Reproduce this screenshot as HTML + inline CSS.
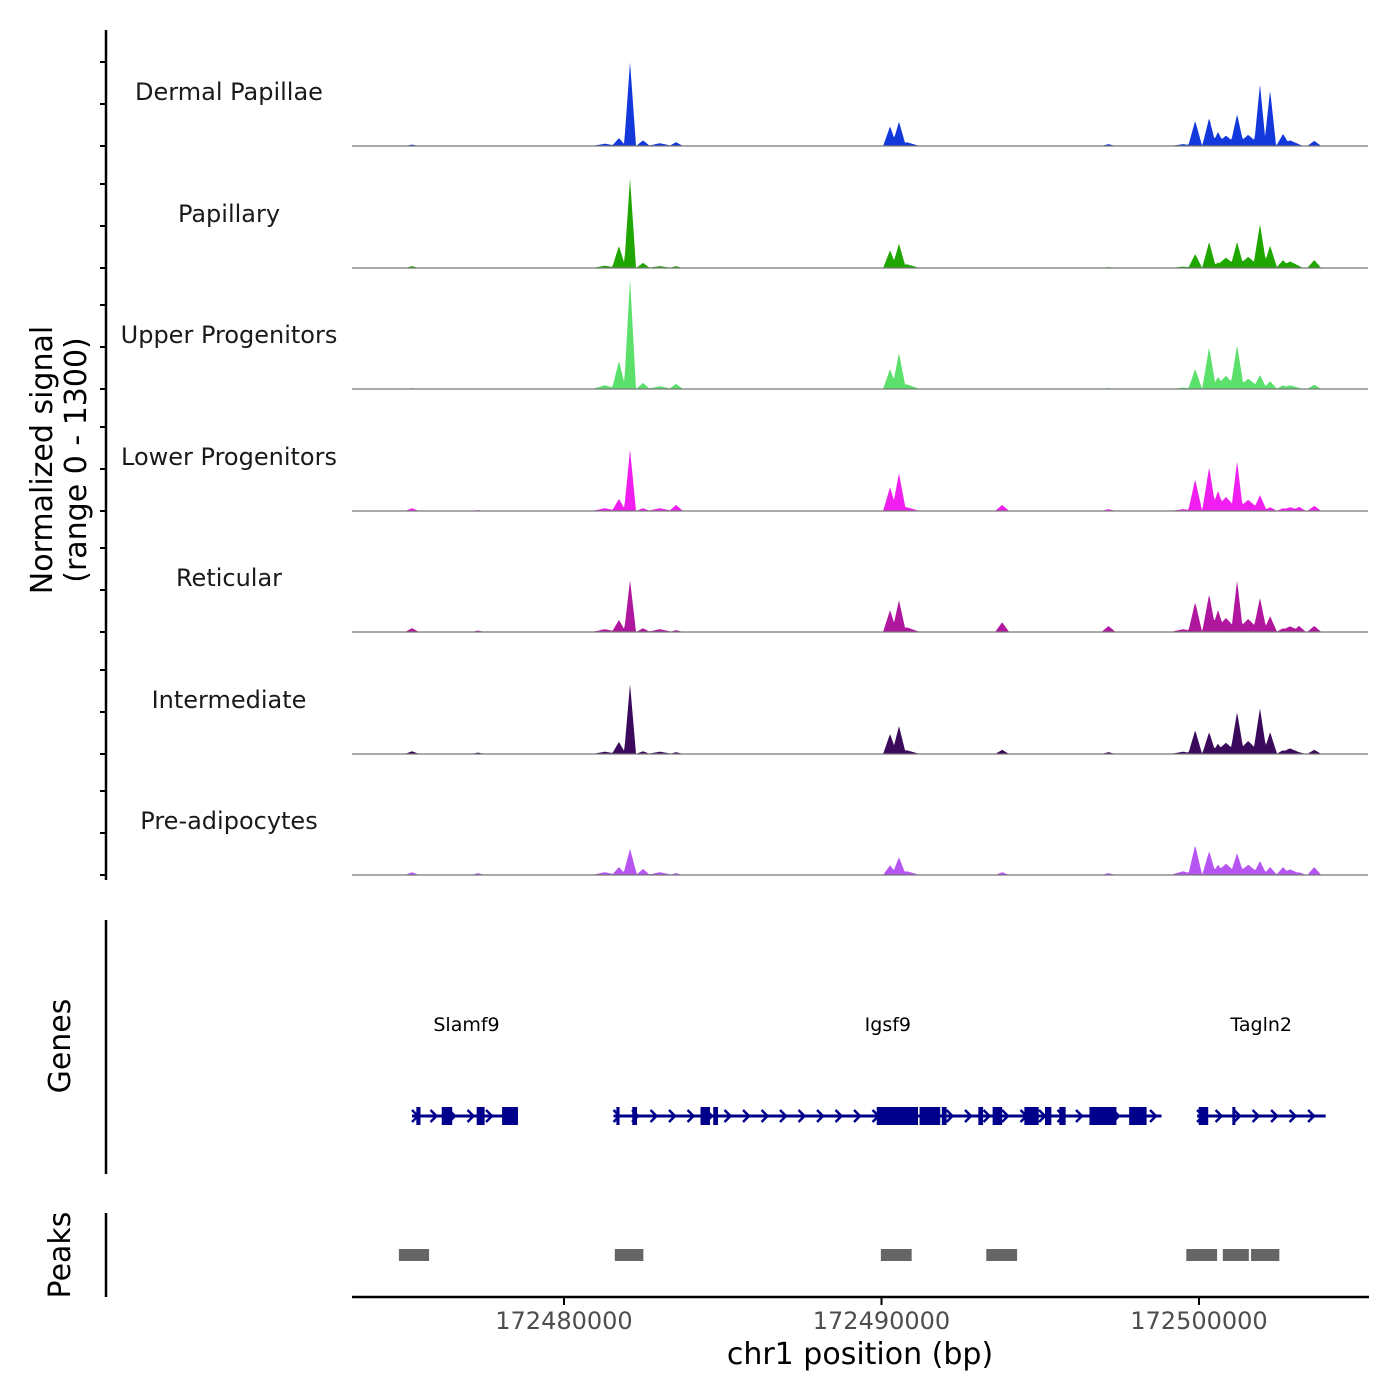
<!DOCTYPE html>
<html><head><meta charset="utf-8"><style>
html,body{margin:0;padding:0;background:#fff;}
svg{display:block;font-family:"DejaVu Sans","Liberation Sans",sans-serif;}
</style></head><body>
<svg id="chart" width="1400" height="1400" viewBox="0 0 1400 1400">
  <line x1="106" y1="30" x2="106" y2="880" stroke="#000" stroke-width="2.5"/>
  <g id="yticks"></g>
  <g id="tracks"></g>
  <text transform="translate(52,460) rotate(-90)" text-anchor="middle" font-size="30" fill="#000">Normalized signal</text>
  <text transform="translate(86,460) rotate(-90)" text-anchor="middle" font-size="30" fill="#000">(range 0 - 1300)</text>

  <line x1="106" y1="920" x2="106" y2="1174" stroke="#000" stroke-width="2.5"/>
  <text transform="translate(70,1046) rotate(-90)" text-anchor="middle" font-size="30">Genes</text>
  <g id="genes"></g>

  <line x1="106" y1="1213" x2="106" y2="1297" stroke="#000" stroke-width="2.5"/>
  <text transform="translate(70,1255) rotate(-90)" text-anchor="middle" font-size="30">Peaks</text>
  <g id="peaks"></g>

  <line x1="352" y1="1297" x2="1369" y2="1297" stroke="#000" stroke-width="2.5"/>
  <g id="xticks"></g>
  <text x="860" y="1364" text-anchor="middle" font-size="30">chr1 position (bp)</text>
</svg>
<script>
const NS="http://www.w3.org/2000/svg";
const X0=172473323, X1=172505323, PX0=352, PX1=1368;
function xs(bp){return PX0+(bp-X0)/(X1-X0)*(PX1-PX0);}
const YMAX=1300, TRACK_H=121.5;
const trackNames=["Dermal Papillae","Papillary","Upper Progenitors","Lower Progenitors","Reticular","Intermediate","Pre-adipocytes"];
const trackColors=["#1339dc","#1fa600","#5ce06c","#f01ff0","#b0179e","#3b0a5c","#b655f2"];
const peakPos=[172475213,172477290,172481730,172482080,172482490,172483530,172490270,172490550,172493800,172497150,172499880,172500320,172500600,172501200,172501920,172502240,172502650,172503150,172503630,172481290,172483020,172500850,172501550,172502870,172499500,172490800];
const sigDermal=[15,5,85,900,60,40,210,260,5,20,270,300,150,340,660,600,130,10,55,25,30,110,120,60,20,40];
const sigPapillary=[20,5,235,960,55,20,190,260,5,10,150,280,60,280,470,240,85,10,85,25,20,110,120,70,15,40];
const sigUpper=[10,5,300,1180,65,55,215,385,5,10,215,450,130,470,150,85,40,10,45,40,30,140,110,40,15,50];
const sigLower=[30,10,130,660,30,65,255,405,65,20,340,470,215,535,170,40,30,45,55,30,30,150,120,40,20,40];
const sigReticular=[40,15,130,555,40,20,235,340,105,65,320,405,235,555,365,170,40,65,65,30,30,150,140,60,30,50];
const sigIntermediate=[30,15,130,750,30,20,215,300,45,20,255,235,110,450,490,235,40,20,45,25,25,120,140,60,25,40];
const sigPreadip=[30,20,85,280,65,20,105,190,30,20,320,255,110,235,150,85,85,30,85,30,30,120,110,60,40,40];
const allSig=[sigDermal,sigPapillary,sigUpper,sigLower,sigReticular,sigIntermediate,sigPreadip];
const baselines=[146,268,389,511,632,754,875];

const tracks=document.getElementById('tracks');
const yt=document.getElementById('yticks');
for(let t=0;t<7;t++){
  const b=baselines[t];
  [0,42,84].forEach(o=>{
    const l=document.createElementNS(NS,'line');
    l.setAttribute('x1',100);l.setAttribute('x2',106);l.setAttribute('y1',b-o);l.setAttribute('y2',b-o);
    l.setAttribute('stroke','#000');l.setAttribute('stroke-width','2');
    
    
    yt.appendChild(l);
  });
  const vals=allSig[t];
  const prof=[];
  for(let px=PX0;px<=PX1;px++){
    let v=0;
    for(let i=0;i<peakPos.length;i++){
      const c=xs(peakPos[i]);const w=i>=19?13:(vals[i]>500?6:7);
      const d=Math.abs(px-c);
      if(d<w) v=Math.max(v,vals[i]*(1-d/w));
    }
    prof.push(v);
  }
  let d='M'+PX0+','+b;
  prof.forEach((v,i)=>{d+=' L'+(PX0+i)+','+(b-Math.min(v,YMAX)/YMAX*TRACK_H).toFixed(1);});
  d+=' L'+PX1+','+b+' Z';
  const p=document.createElementNS(NS,'path');
  p.setAttribute('d',d);p.setAttribute('fill',trackColors[t]);
  
  
  tracks.appendChild(p);
  const bl=document.createElementNS(NS,'line');
  bl.setAttribute('x1',PX0);bl.setAttribute('x2',PX1);bl.setAttribute('y1',b);bl.setAttribute('y2',b);
  bl.setAttribute('stroke','#777');bl.setAttribute('stroke-width','1.2');
  
  
  tracks.appendChild(bl);
  const tx=document.createElementNS(NS,'text');
  tx.setAttribute('x',229);tx.setAttribute('y',b-46);tx.setAttribute('text-anchor','middle');
  tx.setAttribute('font-size','24');tx.setAttribute('fill','#1a1a1a');
  tx.textContent=trackNames[t];
  
  
  tracks.appendChild(tx);
}
(function(){const l=document.createElementNS(NS,'line');l.setAttribute('x1',100);l.setAttribute('x2',106);l.setAttribute('y1',62);l.setAttribute('y2',62);l.setAttribute('stroke','#000');l.setAttribute('stroke-width','2');


yt.appendChild(l);})();

const geneNames=["Slamf9","Igsf9","Tagln2"];
const geneStart=[172475213,172481560,172499940];
const geneEnd=[172478550,172498820,172503990];
const geneLabelPos=[172476930,172490200,172501960];
const exonStart=[172475350,172476150,172477250,172478050,172481650,172482150,172484300,172484700,172489850,172490400,172491200,172491900,172493050,172493500,172494500,172495150,172495600,172496550,172497800,172499990,172501050];
const exonEnd=[172475480,172476480,172477500,172478550,172481750,172482300,172484600,172484850,172490450,172491150,172491850,172492050,172493200,172493800,172494950,172495350,172495800,172497400,172498350,172500290,172501130];
const genes=document.getElementById('genes');
const GY=1116, GC='#00008b';
for(let g=0;g<3;g++){
  const a=xs(geneStart[g]),e=xs(geneEnd[g]);
  const l=document.createElementNS(NS,'line');
  l.setAttribute('x1',a);l.setAttribute('x2',e);l.setAttribute('y1',GY);l.setAttribute('y2',GY);
  l.setAttribute('stroke',GC);l.setAttribute('stroke-width','3');
  
  
  genes.appendChild(l);
  for(let x=a+4;x<=e;x+=18.5){
    const c=document.createElementNS(NS,'path');
    c.setAttribute('d',`M${x-4},${GY-6} L${x+2},${GY} L${x-4},${GY+6}`);
    c.setAttribute('stroke',GC);c.setAttribute('stroke-width','2.5');c.setAttribute('fill','none');
    
    
    genes.appendChild(c);
  }
  const t=document.createElementNS(NS,'text');
  t.setAttribute('x',xs(geneLabelPos[g]));t.setAttribute('y',1031);t.setAttribute('text-anchor','middle');
  t.setAttribute('font-size','19');t.textContent=geneNames[g];
  
  
  genes.appendChild(t);
}
for(let i=0;i<exonStart.length;i++){
  const a=xs(exonStart[i]),e=xs(exonEnd[i]);
  const r=document.createElementNS(NS,'rect');
  r.setAttribute('x',a);r.setAttribute('width',Math.max(3,e-a));r.setAttribute('y',GY-9);r.setAttribute('height',18);
  r.setAttribute('fill',GC);
  
  
  genes.appendChild(r);
}

const peakStart=[172474800,172481600,172489980,172493300,172499600,172500750,172501640];
const peakEnd=[172475750,172482500,172490950,172494270,172500570,172501570,172502530];
const pk=document.getElementById('peaks');
for(let i=0;i<peakStart.length;i++){
  const r=document.createElementNS(NS,'rect');
  r.setAttribute('x',xs(peakStart[i]));r.setAttribute('width',xs(peakEnd[i])-xs(peakStart[i]));
  r.setAttribute('y',1249);r.setAttribute('height',12);r.setAttribute('fill','#666');
  
  
  pk.appendChild(r);
}

const xTicks=[172480000,172490000,172500000];
const xg=document.getElementById('xticks');
xTicks.forEach(v=>{
  const x=xs(v);
  const l=document.createElementNS(NS,'line');
  l.setAttribute('x1',x);l.setAttribute('x2',x);l.setAttribute('y1',1297);l.setAttribute('y2',1305);
  l.setAttribute('stroke','#000');l.setAttribute('stroke-width','2');
  
  
  xg.appendChild(l);
  const t=document.createElementNS(NS,'text');
  t.setAttribute('x',x);t.setAttribute('y',1329);t.setAttribute('text-anchor','middle');
  t.setAttribute('font-size','24');t.setAttribute('fill','#4d4d4d');t.textContent=v;
  
  
  xg.appendChild(t);
});
</script>
</body></html>
